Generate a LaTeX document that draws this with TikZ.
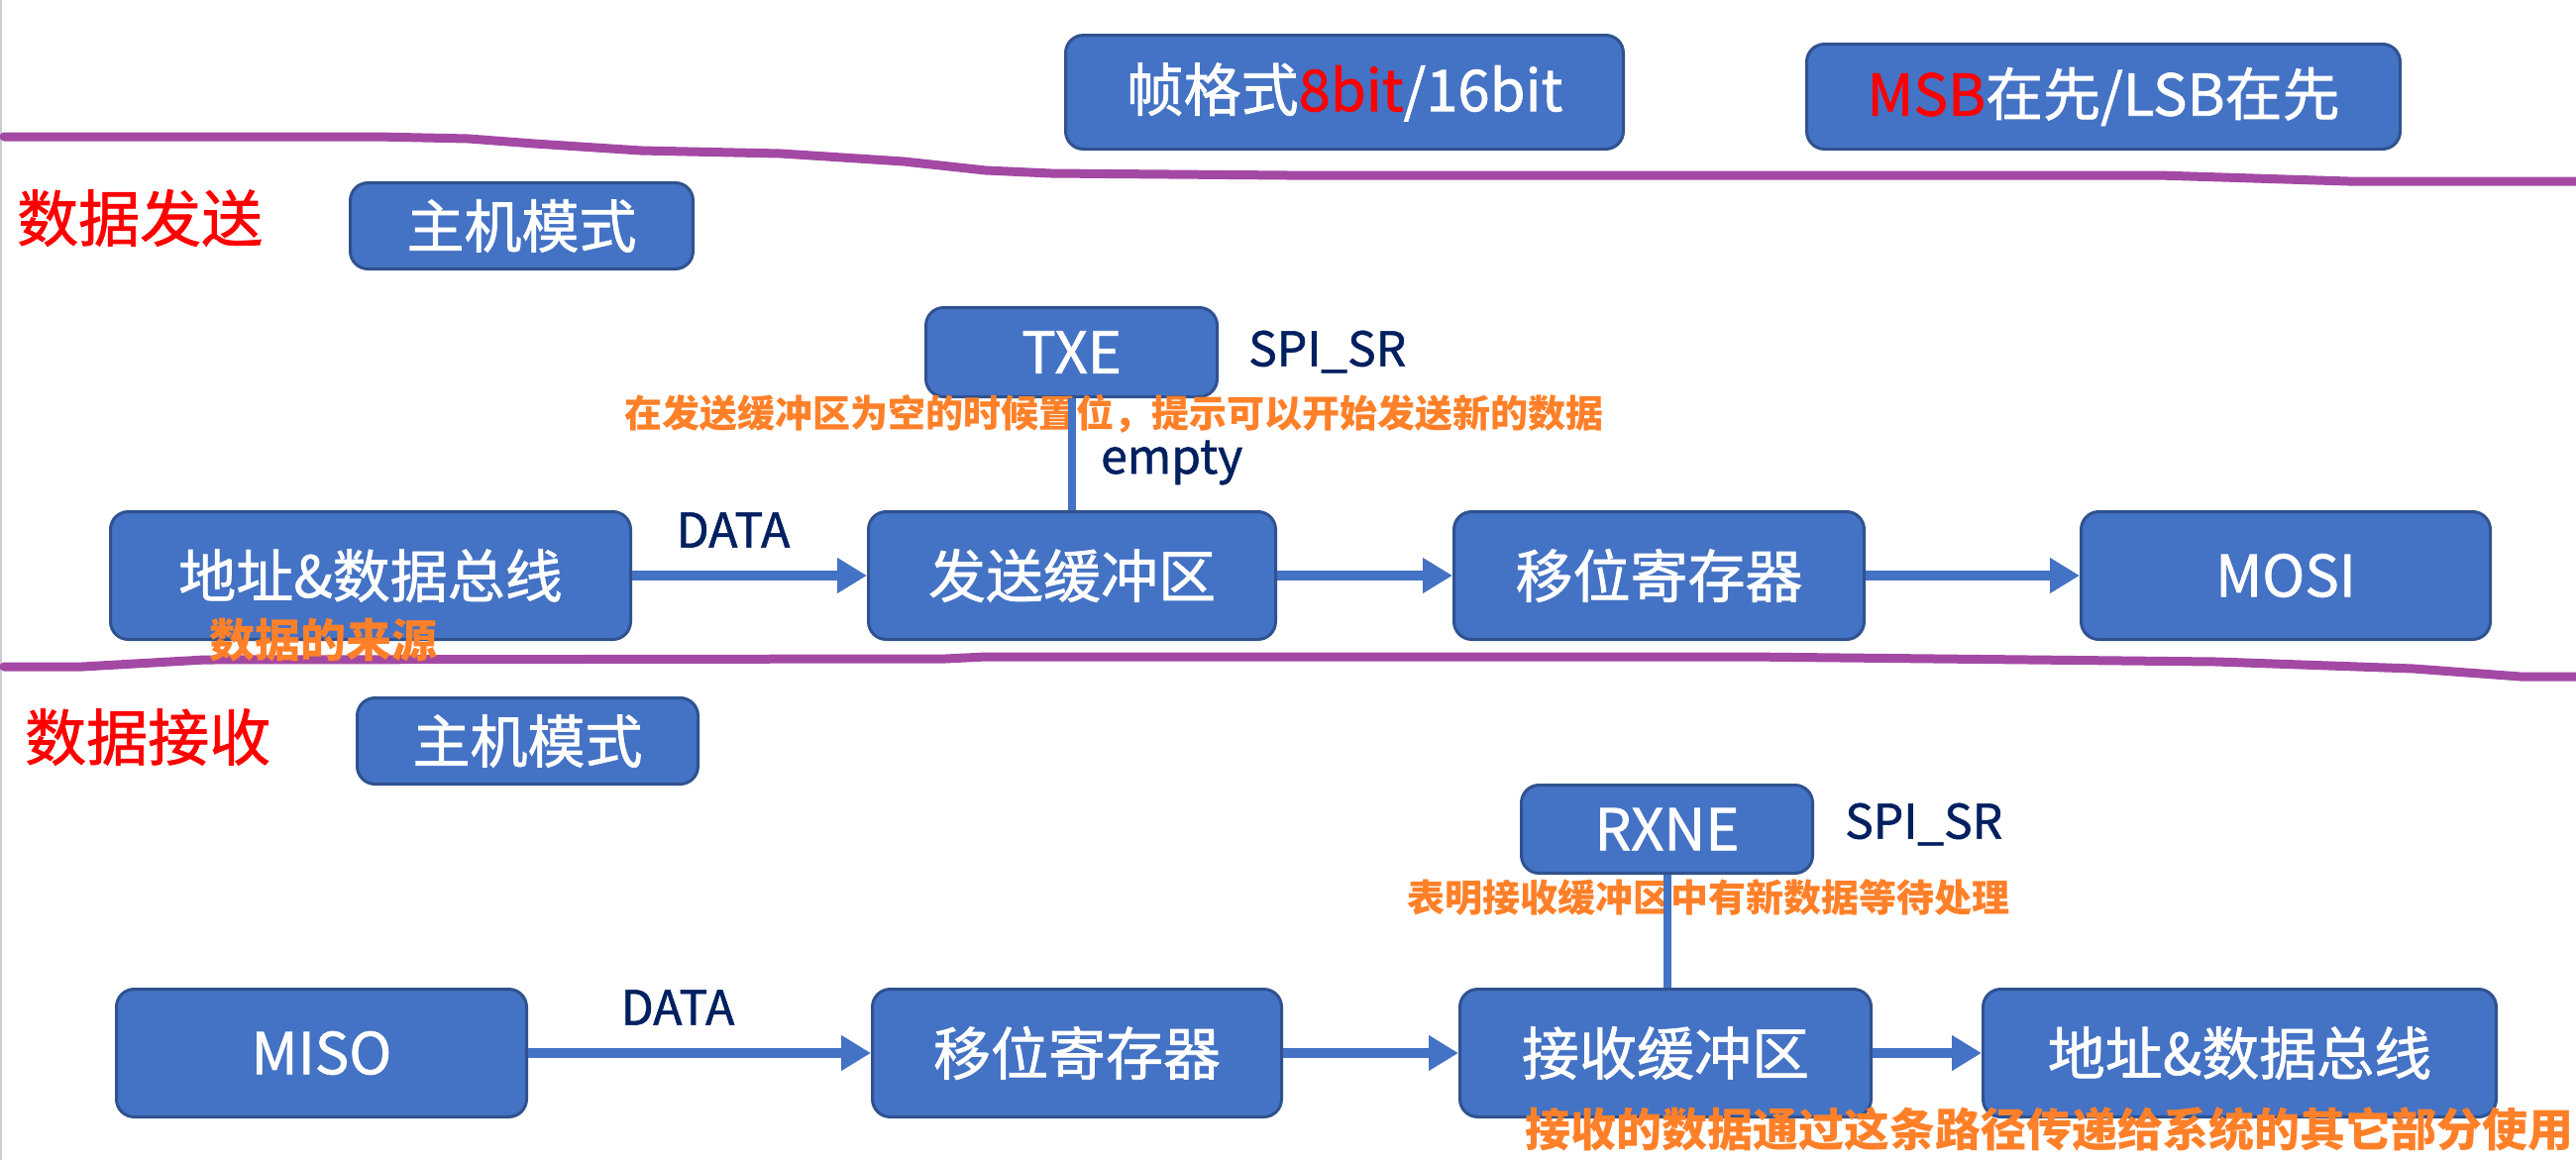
\documentclass[tikz,border=0pt]{standalone}
\usepackage{fontspec}
\setmainfont{Noto Sans CJK SC}
\newfontface\medface[FakeBold=1.2]{Noto Sans CJK SC}
\usetikzlibrary{arrows.meta}
\definecolor{boxblue}{RGB}{68,114,196}
\definecolor{boxline}{RGB}{47,82,143}
\definecolor{purp}{RGB}{163,73,164}
\definecolor{orng}{RGB}{255,128,40}
\definecolor{navy}{RGB}{0,32,96}
\begin{document}
\begin{tikzpicture}[x=1pt,y=-1pt,
  blk/.style={draw=boxline,line width=3pt,fill=boxblue,rounded corners=18pt,text=white,
    font=\medface\fontsize{58}{70}\selectfont,inner sep=0pt},
  flow/.style={draw=boxblue,line width=10pt,-{Triangle[length=30pt,width=34pt]}},
  link/.style={draw=boxblue,line width=8pt},
  lbl/.style={text=navy,font=\medface\fontsize{48}{56}\selectfont,inner sep=0pt},
  note/.style={text=orng,font=\bfseries\fontsize{38}{44}\selectfont,inner sep=0pt},
  bignote/.style={text=orng,font=\bfseries\fontsize{46}{52}\selectfont,inner sep=0pt},
  ttl/.style={text=red,font=\medface\fontsize{62}{70}\selectfont,inner sep=0pt},
  sep/.style={draw=purp,line width=9pt,line cap=round,line join=round}]
\useasboundingbox (0,0) rectangle (2600,1171);
\fill[white] (0,0) rectangle (2600,1171);
\draw[black!20,line width=2pt] (1,0) -- (1,1171);

% separators
\draw[sep] (4,138) -- (380,138) -- (473,140) -- (539,145) -- (647,152) -- (788,155) -- (912,163) -- (995,172) -- (1061,175) -- (1300,177) -- (2179,177) -- (2370,183) -- (2600,183);
\draw[sep] (4,673) -- (83,673) -- (207,666) -- (954,665) -- (995,663) -- (1764,663) -- (2237,668) -- (2436,675) -- (2544,683) -- (2600,683);

% top format boxes
\node[blk,minimum width=563pt,minimum height=115pt] (frame) at (1357,93) {帧格式\textcolor{red}{8bit}/16bit};
\node[blk,minimum width=599pt,minimum height=106pt] (msb) at (2123,97.5) {\textcolor{red}{MSB}在先/LSB在先};

% sending
\node[ttl,anchor=west] (tsend) at (17,220) {数据发送};
\node[blk,minimum width=346pt,minimum height=87pt] (master1) at (526.5,228) {主机模式};
\node[blk,minimum width=294pt,minimum height=90pt] (txe) at (1081.5,355.5) {TXE};
\node[lbl,anchor=west] (sr1) at (1260,355) {SPI\_SR};
\node[blk,minimum width=525pt,minimum height=129pt] (addr1) at (374,581) {地址\&数据总线};
\node[blk,minimum width=411pt,minimum height=129pt] (sendbuf) at (1082,581) {发送缓冲区};
\node[blk,minimum width=414pt,minimum height=129pt] (shift1) at (1674.5,581) {移位寄存器};
\node[blk,minimum width=413pt,minimum height=129pt] (mosi) at (2307,581) {MOSI};
\node[lbl] (data1) at (740,535) {DATA};
\node[lbl,anchor=west] (empty) at (1111,467) {empty};
\node[note,anchor=west] (note1) at (630,418) {在发送缓冲区为空的时候置位，提示可以开始发送新的数据};
\node[bignote,anchor=west] (src) at (211,646) {数据的来源};
\draw[link] (txe.south) -- (txe.south |- sendbuf.north);
\draw[flow] (addr1.east) -- (sendbuf.west);
\draw[flow] (sendbuf.east) -- (shift1.west);
\draw[flow] (shift1.east) -- (mosi.west);

% receiving
\node[ttl,anchor=west] (trecv) at (25,744) {数据接收};
\node[blk,minimum width=344pt,minimum height=87pt] (master2) at (532.5,748) {主机模式};
\node[blk,minimum width=294pt,minimum height=89pt] (rxne) at (1682.5,837) {RXNE};
\node[lbl,anchor=west] (sr2) at (1862,832) {SPI\_SR};
\node[blk,minimum width=414pt,minimum height=129pt] (miso) at (324.5,1063) {MISO};
\node[blk,minimum width=413pt,minimum height=129pt] (shift2) at (1087,1063) {移位寄存器};
\node[blk,minimum width=415pt,minimum height=129pt] (recvbuf) at (1681,1063) {接收缓冲区};
\node[blk,minimum width=518pt,minimum height=129pt] (addr2) at (2260.5,1063) {地址\&数据总线};
\node[lbl] (data2) at (684,1017) {DATA};
\node[note,anchor=west] (note2) at (1420,906) {表明接收缓冲区中有新数据等待处理};
\node[bignote,anchor=east] (note3) at (2598,1140) {接收的数据通过这条路径传递给系统的其它部分使用};
\draw[link] (rxne.south) -- (rxne.south |- recvbuf.north);
\draw[flow] (miso.east) -- (shift2.west);
\draw[flow] (shift2.east) -- (recvbuf.west);
\draw[flow] (recvbuf.east) -- (addr2.west);
\end{tikzpicture}
\end{document}
